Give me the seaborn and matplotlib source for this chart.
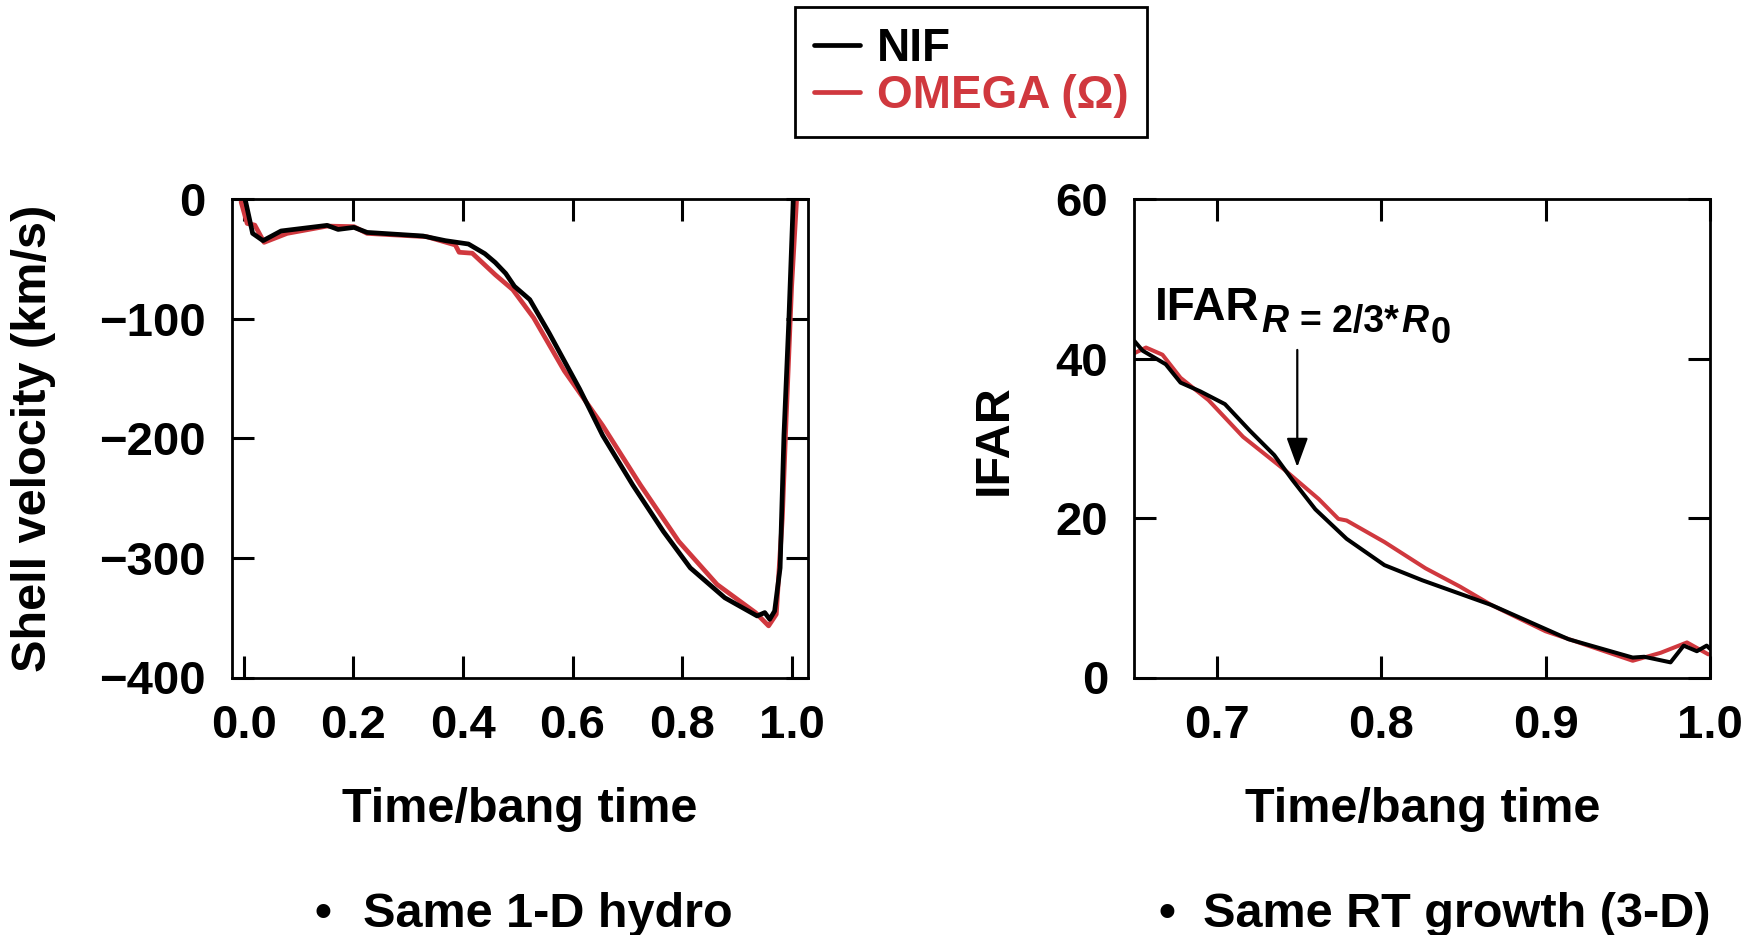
import matplotlib
matplotlib.use("Agg")
import matplotlib.pyplot as plt
import seaborn as sns
import pandas as pd

# ---------------- data ----------------
# Left panel: shell velocity (km/s) vs time/bang time
nif_vel_t = [0.000, 0.016, 0.035, 0.068, 0.152, 0.172, 0.201, 0.225, 0.327, 0.368,
             0.410, 0.440, 0.459, 0.478, 0.494, 0.522, 0.557, 0.613, 0.655, 0.710,
             0.766, 0.815, 0.878, 0.937, 0.951, 0.960, 0.969, 0.979, 0.986, 0.995,
             1.003, 1.006]
nif_vel = [5.0, -28.5, -34.6, -26.5, -21.8, -25.2, -23.5, -27.7, -30.7, -34.6,
           -37.4, -45.5, -52.9, -62.0, -72.8, -83.9, -111.6, -158.7, -197.5, -239.0,
           -277.9, -308.3, -333.3, -348.5, -345.7, -351.3, -344.4, -308.3, -197.5, -100.5,
           -0.8, 10.0]

omega_vel_t = [-0.005, 0.006, 0.020, 0.037, 0.079, 0.152, 0.201, 0.225, 0.334, 0.386,
               0.393, 0.417, 0.459, 0.491, 0.529, 0.585, 0.655, 0.724, 0.794, 0.864,
               0.934, 0.958, 0.972, 0.983, 0.990, 1.000, 1.009, 1.011]
omega_vel = [-2.2, -20.2, -21.6, -36.0, -28.5, -22.4, -22.9, -28.5, -31.3, -38.2,
             -44.3, -45.1, -63.1, -75.6, -99.1, -143.5, -189.2, -239.0, -286.2, -322.2,
             -345.7, -356.8, -347.1, -266.8, -183.6, -72.8, -0.8, 10.0]

# Right panel: IFAR vs time/bang time
nif_ifar_t = [0.650, 0.655, 0.669, 0.678, 0.690, 0.705, 0.720, 0.735, 0.746, 0.760,
              0.779, 0.802, 0.825, 0.867, 0.914, 0.953, 0.960, 0.976, 0.984, 0.992,
              0.998, 1.000]
nif_ifar = [42.2, 41.0, 39.3, 37.0, 35.9, 34.3, 31.0, 27.9, 24.8, 21.1,
            17.4, 14.1, 12.2, 9.1, 4.8, 2.5, 2.6, 1.9, 4.0, 3.3,
            4.0, 3.6]

omega_ifar_t = [0.650, 0.657, 0.667, 0.678, 0.695, 0.716, 0.741, 0.762, 0.774, 0.779,
                0.802, 0.827, 0.848, 0.867, 0.900, 0.953, 0.970, 0.986, 0.999]
omega_ifar = [40.7, 41.4, 40.5, 37.6, 34.8, 30.2, 26.1, 22.4, 19.9, 19.7,
              17.0, 13.7, 11.4, 9.1, 5.8, 2.1, 3.1, 4.4, 2.9]

series_names = ["NIF", "OMEGA (\u03a9)"]
left_xticks = [0.0, 0.2, 0.4, 0.6, 0.8, 1.0]
left_xticklabels = ["0.0", "0.2", "0.4", "0.6", "0.8", "1.0"]
left_yticks = [0, -100, -200, -300, -400]
left_yticklabels = ["0", "\u2212100", "\u2212200", "\u2212300", "\u2212400"]
right_xticks = [0.7, 0.8, 0.9, 1.0]
right_xticklabels = ["0.7", "0.8", "0.9", "1.0"]
right_yticks = [0, 20, 40, 60]
right_yticklabels = ["0", "20", "40", "60"]
xlabel_text = "Time/bang time"
left_ylabel_text = "Shell velocity (km/s)"
right_ylabel_text = "IFAR"
bullet_left = "Same 1-D hydro"
bullet_right = "Same RT growth (3-D)"

# ---------------- style ----------------
sns.set_theme(style="ticks")
plt.rcParams["font.family"] = ["Liberation Sans", "DejaVu Sans"]
plt.rcParams["font.weight"] = "bold"
plt.rcParams["axes.labelweight"] = "bold"
for k in ["text.color", "axes.labelcolor", "xtick.color", "ytick.color", "axes.edgecolor"]:
    plt.rcParams[k] = "black"

BLACK = "#000000"
RED = "#d0383e"

W, H = 1756, 935
fig = plt.figure(figsize=(W / 100, H / 100), dpi=100)


def ax_rect(x0, y0, x1, y1):
    return [x0 / W, 1 - y1 / H, (x1 - x0) / W, (y1 - y0) / H]


ax1 = fig.add_axes(ax_rect(231.8, 199.3, 807.5, 677.5))
ax2 = fig.add_axes(ax_rect(1134.5, 199.3, 1710.0, 677.5))

# left panel
df_ov = pd.DataFrame({"t": omega_vel_t, "v": omega_vel})
df_nv = pd.DataFrame({"t": nif_vel_t, "v": nif_vel})
sns.lineplot(data=df_ov, x="t", y="v", ax=ax1, color=RED, lw=3.4, sort=False,
             estimator=None, label=series_names[1], legend=False)
sns.lineplot(data=df_nv, x="t", y="v", ax=ax1, color=BLACK, lw=3.4, sort=False,
             estimator=None, label=series_names[0], legend=False)

# right panel
df_oi = pd.DataFrame({"t": omega_ifar_t, "v": omega_ifar})
df_ni = pd.DataFrame({"t": nif_ifar_t, "v": nif_ifar})
sns.lineplot(data=df_oi, x="t", y="v", ax=ax2, color=RED, lw=2.9, sort=False,
             estimator=None, legend=False)
sns.lineplot(data=df_ni, x="t", y="v", ax=ax2, color=BLACK, lw=2.9, sort=False,
             estimator=None, legend=False)

ax1.set_xlim(-0.022, 1.029)
ax1.set_ylim(-400, 0)
ax2.set_xlim(0.65, 1.0)
ax2.set_ylim(0, 60)

ax1.set_xticks(left_xticks, left_xticklabels)
ax1.set_yticks(left_yticks, left_yticklabels)
ax2.set_xticks(right_xticks, right_xticklabels)
ax2.set_yticks(right_yticks, right_yticklabels)

for ax in (ax1, ax2):
    ax.tick_params(direction="in", length=16, width=2.2, top=True, right=True,
                   labelsize=34, colors="black")
    ax.tick_params(axis="x", pad=19)
    ax.tick_params(axis="y", pad=19)
    for lab in ax.get_xticklabels() + ax.get_yticklabels():
        lab.set_fontweight("bold")
    for sp in ax.spines.values():
        sp.set_linewidth(2.0)
        sp.set_color("black")
        sp.set_visible(True)
    ax.set_xlabel(xlabel_text, fontsize=35, fontweight="bold", va="baseline")

ax1.xaxis.set_label_coords(0.5, (677.5 - 821.7) / 478.2)
ax2.xaxis.set_label_coords(0.5, (677.5 - 821.7) / 478.2)

ax1.set_ylabel(left_ylabel_text, fontsize=35, fontweight="bold", va="center")
ax1.yaxis.set_label_coords((34 - 231.8) / 575.7, (677.5 - 438) / 478.2)
ax2.set_ylabel(right_ylabel_text, fontsize=35, fontweight="bold", va="center")
ax2.yaxis.set_label_coords((994 - 1134.5) / 575.5, (677.5 - 440) / 478.2)

# annotation arrow on right panel
ax2.annotate("", xy=(0.749, 26.4), xytext=(0.749, 41.1),
             arrowprops=dict(arrowstyle="-|>,head_length=0.9,head_width=0.33",
                             color="black", lw=1.6, shrinkA=0, shrinkB=0,
                             mutation_scale=20))


def ftxt(px, py, s, **kw):
    return fig.text(px / W, 1 - py / H, s, ha=kw.pop("ha", "left"), va="baseline", **kw)


ftxt(1155, 320, "IFAR", fontsize=33, fontweight="bold")
ftxt(1261, 331.7, "R", fontsize=27, fontweight="bold", style="italic")
ftxt(1300, 331.7, "= 2/3*", fontsize=27, fontweight="bold")
ftxt(1401, 331.7, "R", fontsize=27, fontweight="bold", style="italic")
ftxt(1431, 343.3, "0", fontsize=26, fontweight="bold")

# bullet captions
ftxt(323, 926.7, "\u2022", fontsize=35, fontweight="bold", ha="center")
ftxt(363.3, 926.7, bullet_left, fontsize=35, fontweight="bold")
ftxt(1167.5, 926.7, "\u2022", fontsize=35, fontweight="bold", ha="center")
ftxt(1203, 926.7, bullet_right, fontsize=35, fontweight="bold")

# legend
lines = ax1.get_lines()
h_omega, h_nif = lines[0], lines[1]
leg = fig.legend(handles=[h_nif, h_omega], labels=series_names, loc="upper left",
                 bbox_to_anchor=(795 / W, 1 - 7.3 / H), bbox_transform=fig.transFigure,
                 borderaxespad=0, frameon=True, fancybox=False, edgecolor="black",
                 framealpha=1, prop={"size": 33, "weight": "bold"},
                 handlelength=1.0, handletextpad=0.36, borderpad=0.42,
                 labelspacing=0.08, labelcolor=[BLACK, RED])
leg.get_frame().set_linewidth(2.0)

fig.savefig("out.png", dpi=100)
